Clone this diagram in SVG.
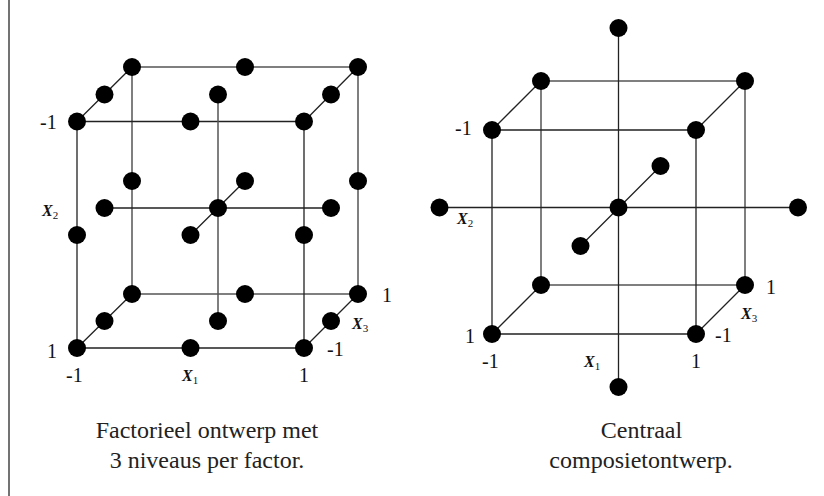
<svg xmlns="http://www.w3.org/2000/svg" width="824" height="496" viewBox="0 0 824 496">
<style>
.bg{fill:#fff}
.frame{stroke:#444;stroke-width:1.5;fill:none}
.ln{stroke:#222;stroke-width:1.3;fill:none}
.bk{stroke:#555;stroke-width:1.5;fill:none}
.dot{fill:#000}
.lbl{font-family:"Liberation Serif","Times New Roman",serif;font-size:20px;fill:#111}
.ax{font-family:"Liberation Serif","Times New Roman",serif;font-size:16px;font-style:italic;font-weight:bold;fill:#111}
.sub{font-size:11px;font-style:normal;font-weight:normal}
.cap{font-family:"Liberation Serif","Times New Roman",serif;font-size:24px;fill:#222;text-anchor:middle}
</style>
<rect class="bg" x="0" y="0" width="824" height="496"/>
<line class="frame" x1="9" y1="0" x2="9" y2="496"/>

<g id="connectors">
  <!-- left cube -->
  <path class="bk" d="M132,67 H358 V294 H132 Z"/>
  <path class="ln" d="M77,121.5 H304 V348 H77 Z"/>
  <path class="ln" d="M77,121.5 L132,67 M304,121.5 L358,67 M77,348 L132,294 M304,348 L358,294"/>
  <path class="bk" d="M218,94 V321"/>
  <path class="ln" d="M104.5,208 H331 M190.5,235 L245,181"/>
  <!-- right cube -->
  <path class="bk" d="M541,81 H745 V285 H541 Z"/>
  <path class="ln" d="M492,130 H696 V334 H492 Z"/>
  <path class="ln" d="M492,130 L541,81 M696,130 L745,81 M492,334 L541,285 M696,334 L745,285"/>
  <path class="ln" d="M618.5,28 V387 M439.5,207.5 H798 M580.5,246 L660.5,166"/>
</g>

<g id="factorial-points">
  <g id="f-front">
    <circle class="dot" cx="77" cy="121.5" r="9"/>
    <circle class="dot" cx="190.5" cy="121.5" r="9"/>
    <circle class="dot" cx="304" cy="121.5" r="9"/>
    <circle class="dot" cx="77" cy="235" r="9"/>
    <circle class="dot" cx="190.5" cy="235" r="9"/>
    <circle class="dot" cx="304" cy="235" r="9"/>
    <circle class="dot" cx="77" cy="348" r="9"/>
    <circle class="dot" cx="190.5" cy="348" r="9"/>
    <circle class="dot" cx="304" cy="348" r="9"/>
  </g>
  <g id="f-middle">
    <circle class="dot" cx="104.5" cy="94.5" r="9"/>
    <circle class="dot" cx="218" cy="94.5" r="9"/>
    <circle class="dot" cx="331" cy="94.5" r="9"/>
    <circle class="dot" cx="104.5" cy="208" r="9"/>
    <circle class="dot" cx="218" cy="208" r="9"/>
    <circle class="dot" cx="331" cy="208" r="9"/>
    <circle class="dot" cx="104.5" cy="321" r="9"/>
    <circle class="dot" cx="218" cy="321" r="9"/>
    <circle class="dot" cx="331" cy="321" r="9"/>
  </g>
  <g id="f-back">
    <circle class="dot" cx="132" cy="67" r="9"/>
    <circle class="dot" cx="245" cy="67" r="9"/>
    <circle class="dot" cx="358" cy="67" r="9"/>
    <circle class="dot" cx="132" cy="181" r="9"/>
    <circle class="dot" cx="245" cy="181" r="9"/>
    <circle class="dot" cx="358" cy="181" r="9"/>
    <circle class="dot" cx="132" cy="294" r="9"/>
    <circle class="dot" cx="245" cy="294" r="9"/>
    <circle class="dot" cx="358" cy="294" r="9"/>
  </g>
</g>

<g id="central-points">
  <g id="c-corners">
    <circle class="dot" cx="492" cy="130" r="9"/>
    <circle class="dot" cx="696" cy="130" r="9"/>
    <circle class="dot" cx="492" cy="334" r="9"/>
    <circle class="dot" cx="696" cy="334" r="9"/>
    <circle class="dot" cx="541" cy="81" r="9"/>
    <circle class="dot" cx="745" cy="81" r="9"/>
    <circle class="dot" cx="541" cy="285" r="9"/>
    <circle class="dot" cx="745" cy="285" r="9"/>
  </g>
  <g id="c-axial">
    <circle class="dot" cx="618.5" cy="207.5" r="9"/>
    <circle class="dot" cx="618.5" cy="28" r="9"/>
    <circle class="dot" cx="618.5" cy="387" r="9"/>
    <circle class="dot" cx="439.5" cy="207.5" r="9"/>
    <circle class="dot" cx="798" cy="207.5" r="9"/>
    <circle class="dot" cx="660.5" cy="166" r="9"/>
    <circle class="dot" cx="580.5" cy="246" r="9"/>
  </g>
</g>

<g id="labels-left">
  <text class="lbl" x="40" y="129">-1</text>
  <text class="ax" x="42" y="216">X<tspan class="sub" dy="3">2</tspan></text>
  <text class="lbl" x="47" y="358">1</text>
  <text class="lbl" x="66" y="382">-1</text>
  <text class="ax" x="182" y="381">X<tspan class="sub" dy="3">1</tspan></text>
  <text class="lbl" x="304" y="382" text-anchor="middle">1</text>
  <text class="lbl" x="382" y="302">1</text>
  <text class="ax" x="352" y="329">X<tspan class="sub" dy="3">3</tspan></text>
  <text class="lbl" x="327" y="356">-1</text>
  <text class="cap" x="207" y="438">Factorieel ontwerp met</text>
  <text class="cap" x="207" y="468">3 niveaus per factor.</text>
</g>

<g id="labels-right">
  <text class="lbl" x="455" y="135">-1</text>
  <text class="ax" x="457" y="224">X<tspan class="sub" dy="3">2</tspan></text>
  <text class="lbl" x="465" y="343">1</text>
  <text class="lbl" x="482" y="368">-1</text>
  <text class="ax" x="584" y="367">X<tspan class="sub" dy="3">1</tspan></text>
  <text class="lbl" x="696" y="368" text-anchor="middle">1</text>
  <text class="lbl" x="766" y="294">1</text>
  <text class="ax" x="741" y="319">X<tspan class="sub" dy="3">3</tspan></text>
  <text class="lbl" x="715" y="342">-1</text>
  <text class="cap" x="641.5" y="438">Centraal</text>
  <text class="cap" x="641" y="468">composietontwerp.</text>
</g>
</svg>
